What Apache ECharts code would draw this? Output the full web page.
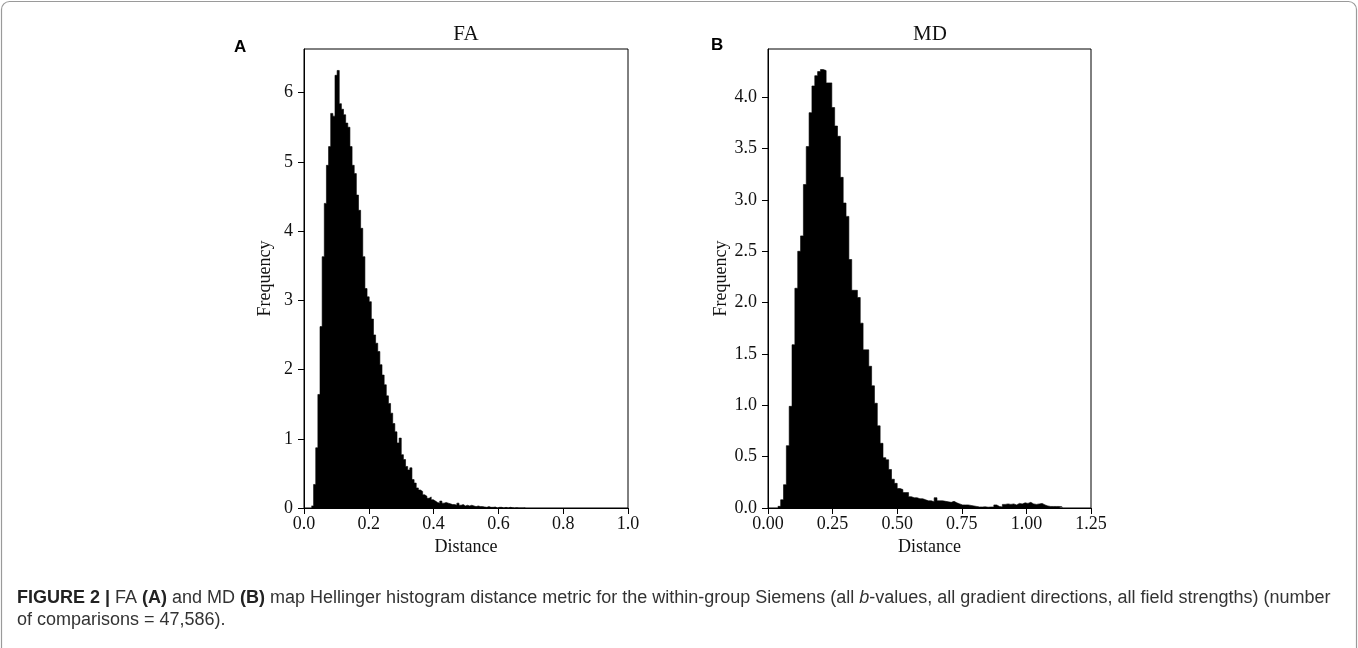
<!DOCTYPE html>
<html><head><meta charset="utf-8">
<script src="https://cdn.jsdelivr.net/npm/echarts@6/dist/echarts.min.js"></script>
<style>html,body{margin:0;padding:0;background:#fff;}#c{width:1358px;height:648px;}</style>
</head><body><div id="c"></div>
<script>
// ---- data ----
const faBinStart = 0.023;
const faBinWidth = 0.0066;
const faFreq = [
 0.03, 0.34, 0.87, 1.64, 2.62, 3.63, 4.40, 4.95, 5.22, 5.70,
 5.66, 6.25, 6.32, 5.84, 5.76, 5.68, 5.56, 5.50, 5.22, 4.95,
 4.83, 4.52, 4.30, 4.04, 3.63, 3.17, 3.05, 2.98, 2.73, 2.50,
 2.38, 2.26, 2.07, 1.92, 1.78, 1.62, 1.51, 1.37, 1.22, 1.10,
 0.94, 1.01, 0.77, 0.70, 0.60, 0.55, 0.58, 0.41, 0.36, 0.29,
 0.26, 0.24, 0.19, 0.17, 0.14, 0.16, 0.12, 0.10, 0.08, 0.07,
 0.10, 0.07, 0.08, 0.07, 0.06, 0.05, 0.05, 0.04, 0.07, 0.04,
 0.05, 0.03, 0.04, 0.03, 0.04, 0.03, 0.02, 0.03, 0.02, 0.02,
 0.015, 0.01, 0.02, 0.01, 0.01, 0.015, 0, 0.01, 0.01, 0,
 0.01, 0, 0.01, 0.005, 0, 0.005, 0, 0, 0, 0.005
];
const mdBinStart = 0.038;
const mdBinWidth = 0.011;
const mdFreq = [
 0.016, 0.08, 0.227, 0.607, 0.99, 1.59, 2.14, 2.50, 2.65, 3.15,
 3.52, 3.85, 4.11, 4.21, 4.25, 4.27, 4.26, 4.14, 4.14, 3.90,
 3.72, 3.62, 3.22, 2.97, 2.84, 2.42, 2.12, 2.12, 2.05, 1.80,
 1.54, 1.54, 1.38, 1.19, 1.02, 0.80, 0.63, 0.49, 0.47, 0.375,
 0.28, 0.24, 0.19, 0.18, 0.15, 0.15, 0.11, 0.10, 0.10, 0.09,
 0.09, 0.08, 0.07, 0.07, 0.06, 0.10, 0.07, 0.07, 0.065, 0.06,
 0.055, 0.065, 0.05, 0.04, 0.03, 0.03, 0.03, 0.025, 0.02, 0.015,
 0.01, 0.01, 0.012, 0.008, 0.01, 0.01, 0.03, 0.015, 0.01, 0.035,
 0.04, 0.035, 0.04, 0.03, 0.045, 0.04, 0.05, 0.045, 0.055, 0.04,
 0.035, 0.04, 0.045, 0.03, 0.02, 0.015, 0.015, 0.015, 0.015, 0.012
];
const panelTitles = ['FA', 'MD'];
const panelLetters = ['A', 'B'];
const xAxisName = 'Distance';
const yAxisName = 'Frequency';
const faXRange = [0, 1.0, 0.2];
const faYRange = [0, 6.63, 1];
const mdXRange = [0, 1.25, 0.25];
const mdYRange = [0, 4.47, 0.5];
const captionLine1 = '{b|FIGURE 2 |} FA {b|(A)} and MD {b|(B)} map Hellinger histogram distance metric for the within-group Siemens (all {i|b}-values, all gradient directions, all field strengths) (number';
const captionLine2 = 'of comparisons = 47,586).';

// ---- build ----
function stepData(start, w, freq) {
  const d = freq.map((f, i) => [start + i * w, f]);
  d.push([start + freq.length * w, 0]);
  return d;
}
const serif = 'Liberation Serif';
const ink = '#111';
function xAx(grid, r, dec) {
  return {
    type: 'value', gridIndex: grid, min: r[0], max: r[1], interval: r[2],
    axisLine: {show: true, onZero: false, lineStyle: {color: '#000', width: 1}},
    axisTick: {show: true, inside: false, length: 6, lineStyle: {color: '#000', width: 1}},
    axisLabel: {formatter: v => v.toFixed(dec), fontFamily: serif, fontSize: 18, color: ink, margin: 7, hideOverlap: false},
    splitLine: {show: false},
    name: xAxisName, nameLocation: 'middle', nameGap: 24,
    nameTextStyle: {fontFamily: serif, fontSize: 18, color: ink}
  };
}
function yAx(grid, r, dec, gap) {
  return {
    type: 'value', gridIndex: grid, min: r[0], max: r[1], interval: r[2],
    axisLine: {show: true, onZero: false, lineStyle: {color: '#000', width: 1}},
    axisTick: {show: true, inside: false, length: 6, lineStyle: {color: '#000', width: 1}},
    axisLabel: {formatter: v => v.toFixed(dec), fontFamily: serif, fontSize: 18, color: ink, margin: 11, showMaxLabel: false, hideOverlap: false},
    splitLine: {show: false},
    name: yAxisName, nameLocation: 'middle', nameGap: gap,
    nameTextStyle: {fontFamily: serif, fontSize: 18, color: ink}
  };
}
function hist(idx, start, w, freq) {
  return {
    type: 'line', xAxisIndex: idx, yAxisIndex: idx, step: 'end', symbol: 'none',
    data: stepData(start, w, freq), silent: true, animation: false,
    lineStyle: {color: '#000', width: 0.6},
    areaStyle: {color: '#000', opacity: 1}
  };
}
const chart = echarts.init(document.getElementById('c'), null, {renderer: 'canvas'});
chart.setOption({
  animation: false,
  backgroundColor: '#fff',
  grid: [
    {left: 304, top: 49, width: 324, height: 459, show: true, borderColor: '#000', borderWidth: 1, backgroundColor: 'transparent'},
    {left: 768, top: 49, width: 323, height: 459, show: true, borderColor: '#000', borderWidth: 1, backgroundColor: 'transparent'}
  ],
  title: [
    {text: panelTitles[0], left: 466, top: 24, textAlign: 'center', padding: 0, textStyle: {fontFamily: serif, fontSize: 21, fontWeight: 'normal', color: ink}},
    {text: panelTitles[1], left: 930, top: 24, textAlign: 'center', padding: 0, textStyle: {fontFamily: serif, fontSize: 21, fontWeight: 'normal', color: ink}}
  ],
  xAxis: [xAx(0, faXRange, 1), xAx(1, mdXRange, 2)],
  yAxis: [yAx(0, faYRange, 0, 30), yAx(1, mdYRange, 1, 36)],
  series: [hist(0, faBinStart, faBinWidth, faFreq), hist(1, mdBinStart, mdBinWidth, mdFreq)],
  graphic: [
    {type: 'rect', shape: {x: 1.5, y: 1.5, width: 1355, height: 700, r: 8}, style: {fill: 'none', stroke: '#9a9a9a', lineWidth: 1.2}, silent: true},
    {type: 'text', x: 234, y: 39, style: {text: panelLetters[0], fontFamily: 'Liberation Sans', fontWeight: 'bold', fontSize: 17, fill: '#000'}},
    {type: 'text', x: 711, y: 37, style: {text: panelLetters[1], fontFamily: 'Liberation Sans', fontWeight: 'bold', fontSize: 17, fill: '#000'}},
    {type: 'text', x: 17, y: 587, style: {
      text: captionLine1 + '\n' + captionLine2, fontFamily: 'Liberation Sans', fontSize: 18, fill: '#333', lineHeight: 22,
      rich: {b: {fontWeight: 'bold', fontFamily: 'Liberation Sans', fontSize: 18, fill: '#222', lineHeight: 22}, i: {fontStyle: 'italic', fontFamily: 'Liberation Sans', fontSize: 18, fill: '#333', lineHeight: 22}}
    }}
  ]
});
</script></body></html>
